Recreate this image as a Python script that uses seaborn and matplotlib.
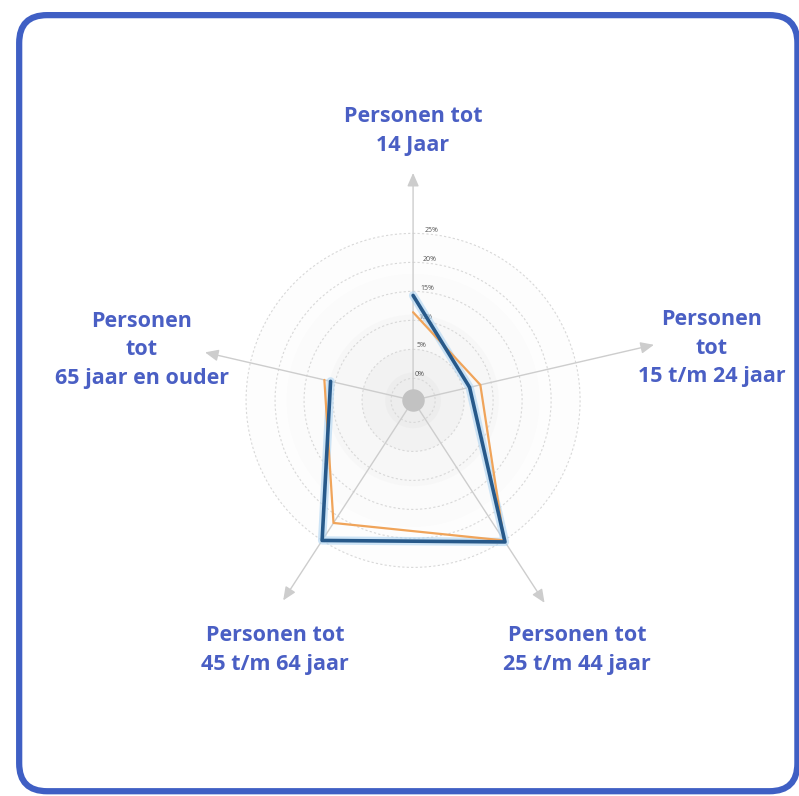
import numpy as np
import pandas as pd
import seaborn as sns
import matplotlib
matplotlib.use("Agg")
import matplotlib.pyplot as plt
from matplotlib.patches import FancyBboxPatch

# age groups (clockwise from top)
categories = ["Personen tot\n14 Jaar",
              "Personen\ntot\n15 t/m 24 jaar",
              "Personen tot\n25 t/m 44 jaar",
              "Personen tot\n45 t/m 64 jaar",
              "Personen\ntot\n65 jaar en ouder"]
# share per age group (%)
blue_values = [14.3, 6.2, 25.3, 25.0, 10.8]
orange_values = [11.4, 8.1, 25.0, 21.4, 11.9]
ring_ticks = [0, 5, 10, 15, 20, 25]
ring_labels = ["0%", "5%", "10%", "15%", "20%", "25%"]

# layout: direction of each spoke (degrees clockwise from top) and arrow lengths
axis_angles_deg = [0, 77, 147, 213, 283]
arrow_len = [35.9, 39.3, 38.3, 37.8, 33.5]

sns.set_style("white")
plt.rcParams['font.family'] = ['Open Sans', 'DejaVu Sans']

fig = plt.figure(figsize=(7.99, 7.96), dpi=100)
fig.patch.set_facecolor("white")

# blue rounded frame
frame = FancyBboxPatch((0.024, 0.006), 0.974, 0.975, boxstyle="round,pad=0,rounding_size=0.035",
                       transform=fig.transFigure, facecolor="none", edgecolor="#3f5fc4",
                       linewidth=4.5, zorder=10)
fig.patches.append(frame)

ax = fig.add_axes([0.204, 0.183, 0.626, 0.628], projection="polar")
ax.patch.set_visible(False)
ax.set_theta_zero_location("N")
ax.set_theta_direction(-1)
r0 = -3.8   # value at the very centre (0% ring sits a little away from it)
ax.set_ylim(r0, 39.3)

angles = np.deg2rad(axis_angles_deg)

# soft grey shading in the middle
circ = np.linspace(0, 2 * np.pi, 100)
for rr, a in [(25, 0.012), (18, 0.018), (11, 0.03), (5, 0.045), (1, 0.05)]:
    ax.fill(circ, np.full(100, rr), color="#9a9a9a", alpha=a, lw=0, zorder=0)

df_blue = pd.DataFrame({"theta": np.append(angles, angles[0]),
                        "r": blue_values + blue_values[:1]})
df_orange = pd.DataFrame({"theta": np.append(angles, angles[0]),
                          "r": orange_values + orange_values[:1]})

sns.lineplot(data=df_blue, x="theta", y="r", sort=False, ax=ax, color="#aed4f2",
             linewidth=6, solid_joinstyle="round", alpha=0.6, zorder=3)
sns.lineplot(data=df_orange, x="theta", y="r", sort=False, ax=ax, color="#f0a45a",
             linewidth=1.6, zorder=4)
sns.lineplot(data=df_blue, x="theta", y="r", sort=False, ax=ax, color="#27598a",
             linewidth=2.6, solid_joinstyle="round", zorder=5)

# axis arrows
for th, ln in zip(angles, arrow_len):
    ax.annotate("", xy=(th, ln), xytext=(th, r0),
                arrowprops=dict(arrowstyle="-|>,head_length=0.8,head_width=0.35",
                                color="#cdcdcd", lw=1.0), zorder=1)

# centre dot
ax.scatter([0], [r0], s=230, color="#c2c2c2", zorder=6, clip_on=False)

ax.set_xticks([])
ax.set_yticks(ring_ticks)
ax.set_yticklabels(ring_labels, fontsize=5, color="#555555")
ax.set_rlabel_position(4)
ax.yaxis.grid(True, linestyle=(0, (2, 2)), color="#d8d8d8", linewidth=0.8)
ax.xaxis.grid(False)
for sp in ax.spines.values():
    sp.set_visible(False)
ax.set_xlabel("")
ax.set_ylabel("")

# category labels
label_pos = [(413, 131), (712, 348), (577, 650), (275, 650), (142, 350)]
for txt, (px, py) in zip(categories, label_pos):
    fig.text(px / 799, 1 - py / 796, txt, ha="center", va="center", fontsize=15.5,
             fontweight="bold", color="#4a5fc4", linespacing=1.45)

fig.savefig("out.png", dpi=100, facecolor="white")
